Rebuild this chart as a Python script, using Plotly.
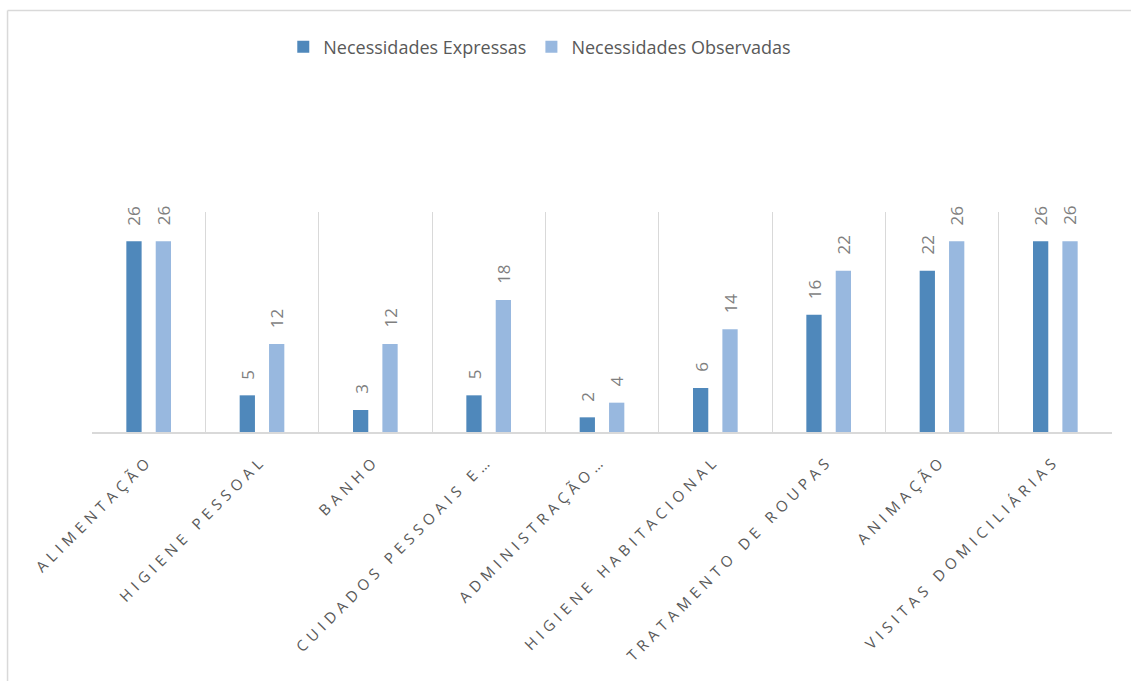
import plotly.graph_objects as go

# Categories and series values
categorias = [
    "ALIMENTAÇÃO",
    "HIGIENE PESSOAL",
    "BANHO",
    "CUIDADOS PESSOAIS E…",
    "ADMINISTRAÇÃO…",
    "HIGIENE HABITACIONAL",
    "TRATAMENTO DE ROUPAS",
    "ANIMAÇÃO",
    "VISITAS DOMICILIÁRIAS",
]
expressas = [26, 5, 3, 5, 2, 6, 16, 22, 26]
observadas = [26, 12, 12, 18, 4, 14, 22, 26, 26]

nome_expressas = "Necessidades Expressas"
nome_observadas = "Necessidades Observadas"

COR_EXP = "#4F88BB"
COR_OBS = "#98B8DF"
GRID = "#D9D9D9"
TXT = "#595959"
LBL = "#7F7F7F"
FONT = "Open Sans"

fig = go.Figure()
fig.add_trace(go.Bar(x=categorias, y=expressas, name=nome_expressas,
                     marker=dict(color=COR_EXP, line=dict(width=0))))
fig.add_trace(go.Bar(x=categorias, y=observadas, name=nome_observadas,
                     marker=dict(color=COR_OBS, line=dict(width=0))))

# Vertical value labels above each bar
annotations = []
for serie, dx in ((expressas, -14.7), (observadas, 14.7)):
    for cat, v in zip(categorias, serie):
        annotations.append(dict(
            x=cat, y=v, xref="x", yref="y", text=str(v), showarrow=False,
            textangle=-90, xshift=dx, yshift=14, xanchor="center",
            yanchor="bottom", font=dict(family=FONT, size=17, color=LBL)))

# Chart-area frame (left and top edges)
shapes = [
    dict(type="line", xref="paper", yref="paper", x0=-0.0828, x1=-0.0828,
         y0=1.916, y1=-1.2, line=dict(color=GRID, width=1.5)),
    dict(type="line", xref="paper", yref="paper", x0=-0.0828, x1=1.1,
         y0=1.916, y1=1.916, line=dict(color=GRID, width=1.5)),
]

fig.update_layout(
    width=1131, height=681,
    margin=dict(l=92, r=19, t=212, b=249),
    paper_bgcolor="white", plot_bgcolor="white",
    barmode="group", bargap=0.4815, bargroupgap=0.48,
    font=dict(family=FONT, color=TXT),
    showlegend=True,
    legend=dict(orientation="h", x=0.439, xanchor="center", y=1.75,
                yanchor="middle", font=dict(family=FONT, size=18, color=TXT),
                itemsizing="constant"),
    annotations=annotations,
    shapes=shapes,
    xaxis=dict(
        type="category", range=[-0.5, 8.5], tickangle=-45,
        tickson="boundaries", showgrid=True, gridcolor=GRID, gridwidth=1,
        showline=True, linecolor=GRID, linewidth=1.5, ticks="",
        ticklabelstandoff=12,
        tickfont=dict(family=FONT, size=15, color=TXT), automargin=False,
    ),
    yaxis=dict(range=[0, 30], visible=False, showgrid=False),
)

# Widen the spacing between letters of the category labels
spacing_js = """
var gd = document.getElementById('{plot_id}');
function spaceTicks() {
  gd.querySelectorAll('.xtick text').forEach(function (t) {
    t.style.letterSpacing = '5px';
  });
}
spaceTicks();
gd.on('plotly_afterplot', spaceTicks);
"""

fig.write_html("out.html", post_script=spacing_js)
